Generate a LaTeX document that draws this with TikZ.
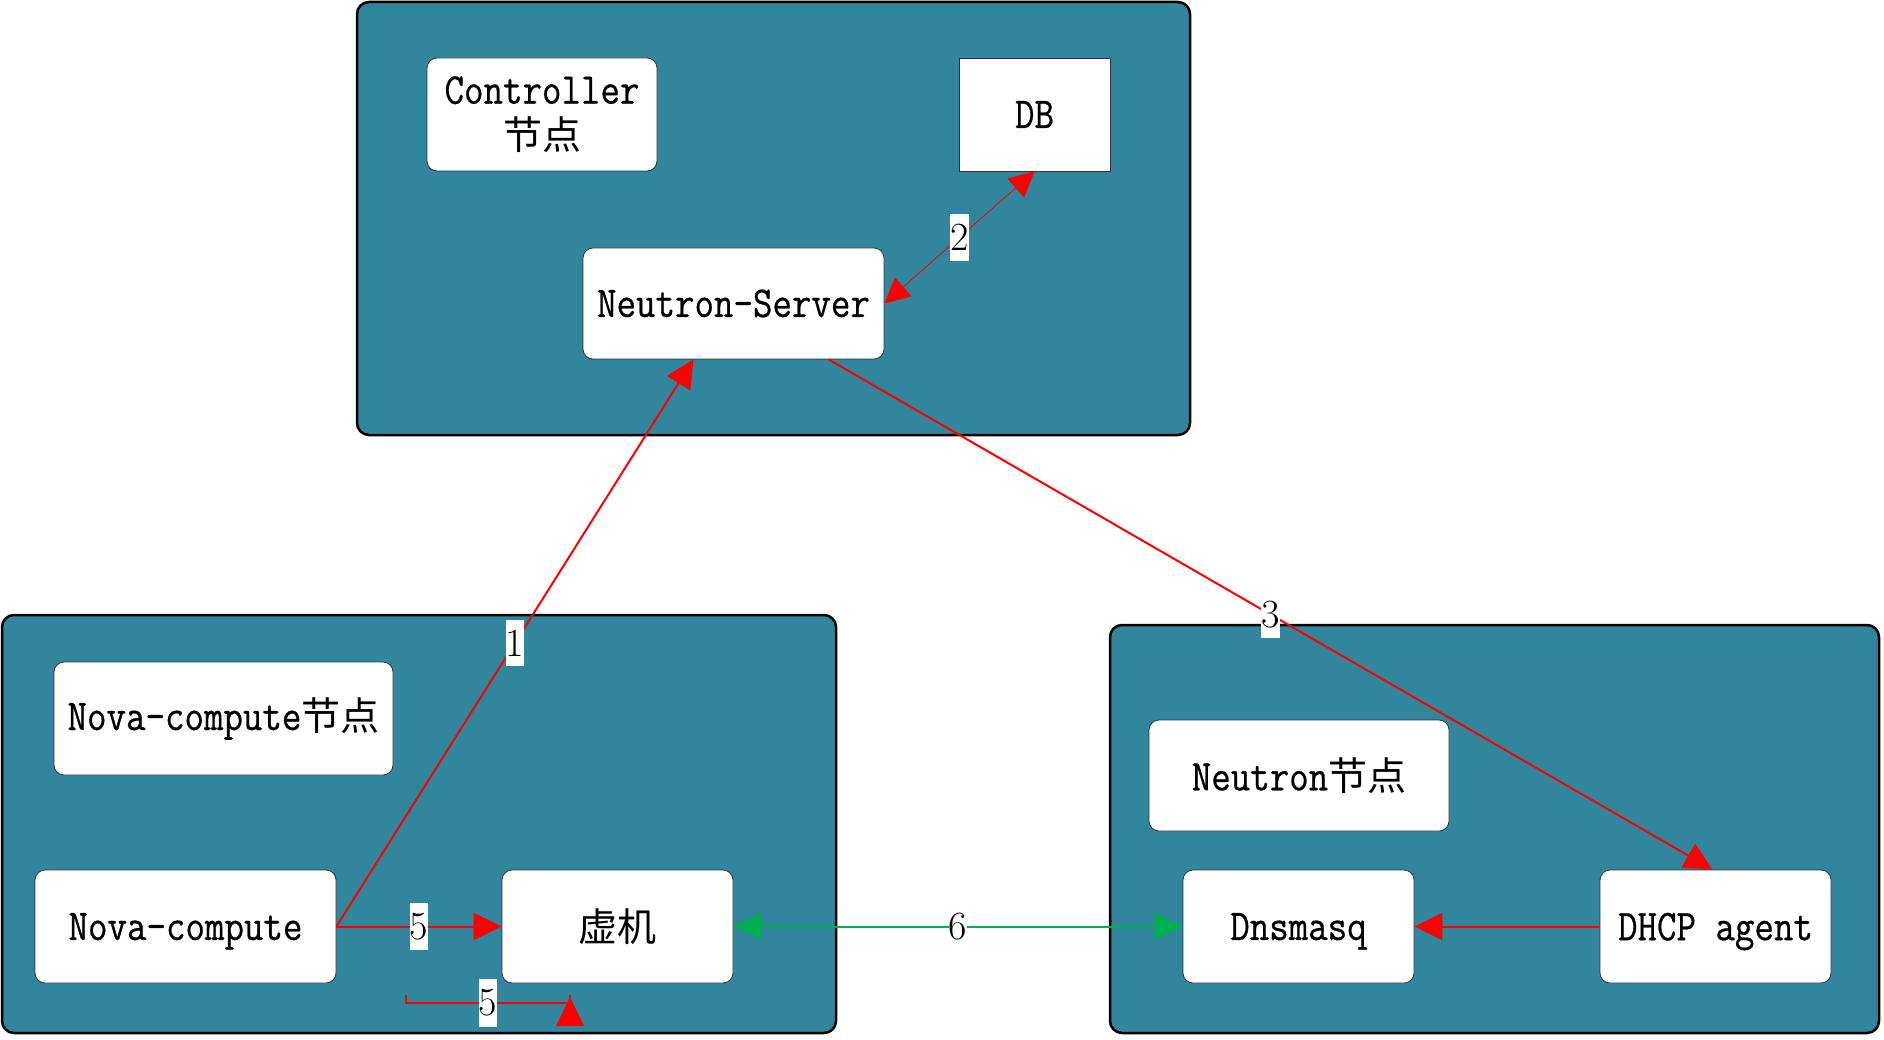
\documentclass[tikz,border=0pt]{standalone}
\usepackage{fontspec}
\newfontfamily\cjk{Noto Sans CJK SC}
\newfontfamily\monof[FakeStretch=0.86,FakeBold=0.6]{Latin Modern Mono}
\usetikzlibrary{arrows.meta,calc}
\definecolor{tealbg}{HTML}{31859C}
\definecolor{grn}{HTML}{00B050}
\begin{document}
\begin{tikzpicture}[x=1pt,y=-1pt,
  container/.style={draw=black,line width=2.5pt,fill=tealbg,rounded corners=12pt,inner sep=0pt},
  box/.style={draw=black!80,line width=0.8pt,fill=white,rounded corners=10pt,inner sep=0pt,
    align=center,font=\fontsize{44}{46}\selectfont\monof},
  sqbox/.style={box,rounded corners=0pt},
  nodepth/.style={text depth=0pt},
  lbl/.style={fill=white,inner xsep=0pt,inner ysep=10pt,font=\fontsize{40}{44}\selectfont,text=black},
  redarrow/.style={draw=red,line width=2pt,-{Triangle[length=28pt,width=27pt]}},
  thinarrow/.style={draw=red,line width=0.8pt,{Triangle[length=25pt,width=25pt]}-{Triangle[length=25pt,width=25pt]}},
  grnarrow/.style={draw=grn,line width=2pt,{Triangle[length=28pt,width=27pt]}-{Triangle[length=28pt,width=27pt]}}
]
\useasboundingbox (0,0) rectangle (1884,1040);
% containers
\node[container,minimum width=833pt,minimum height=433pt] (ctrl) at (773.5,218.5) {};
\node[container,minimum width=834pt,minimum height=418pt] (nova) at (419,824) {};
\node[container,minimum width=769pt,minimum height=408pt] (neut) at (1494.5,829) {};
% inner nodes
\node[box,minimum width=230pt,minimum height=113pt] (ctrln) at (542,114.5) {Controller\\{\cjk\fontsize{39}{46}\selectfont 节点}};
\node[sqbox,minimum width=151pt,minimum height=113pt] (db) at (1034.5,114.5) {DB};
\node[box,minimum width=301pt,minimum height=111pt] (ns) at (733.5,303.5) {Neutron-Server};
\node[box,minimum width=339pt,minimum height=113pt] (novan) at (223.5,718.5) {Nova-compute{\cjk\fontsize{39}{46}\selectfont 节点}};
\node[box,nodepth,minimum width=301pt,minimum height=113pt] (nc) at (185.5,926.5) {Nova-compute};
\node[box,minimum width=231pt,minimum height=113pt] (vm) at (617.5,926.5) {{\cjk\fontsize{39}{46}\selectfont 虚机}};
\node[box,minimum width=300pt,minimum height=111pt] (neutn) at (1299,775.5) {Neutron{\cjk\fontsize{39}{46}\selectfont 节点}};
\node[box,nodepth,minimum width=231pt,minimum height=113pt] (dns) at (1298.5,926.5) {Dnsmasq};
\node[box,nodepth,minimum width=231pt,minimum height=113pt] (dhcp) at (1715.5,926.5) {DHCP agent};
% connectors
\draw[redarrow] (nc.east) -- node[lbl,pos=0.5]{1} ([xshift=-40pt]ns.south);
\draw[thinarrow] (ns.east) -- node[lbl,pos=0.5]{2} (db.south);
\draw[redarrow] ([xshift=95pt]ns.south) -- node[lbl,pos=0.5]{3} ([xshift=-3pt]dhcp.north);
\draw[redarrow] (nc.east) -- node[lbl,pos=0.5]{5} (vm.west);
\draw[grnarrow] (vm.east) -- node[lbl,pos=0.5]{6} (dns.west);
\draw[redarrow] (dhcp.west) -- (dns.east);
% odd loop 5
\coordinate (l1) at (406,995);
\coordinate (l2) at (570,1003);
\coordinate (l3) at (570,995);
\draw[red,line width=2pt] (l1) |- node[lbl,pos=0.75]{5} (l2) -- (l3);
\fill[red] (556,1026) -- (584,1026) -- (570,997) -- cycle;
\end{tikzpicture}
\end{document}
